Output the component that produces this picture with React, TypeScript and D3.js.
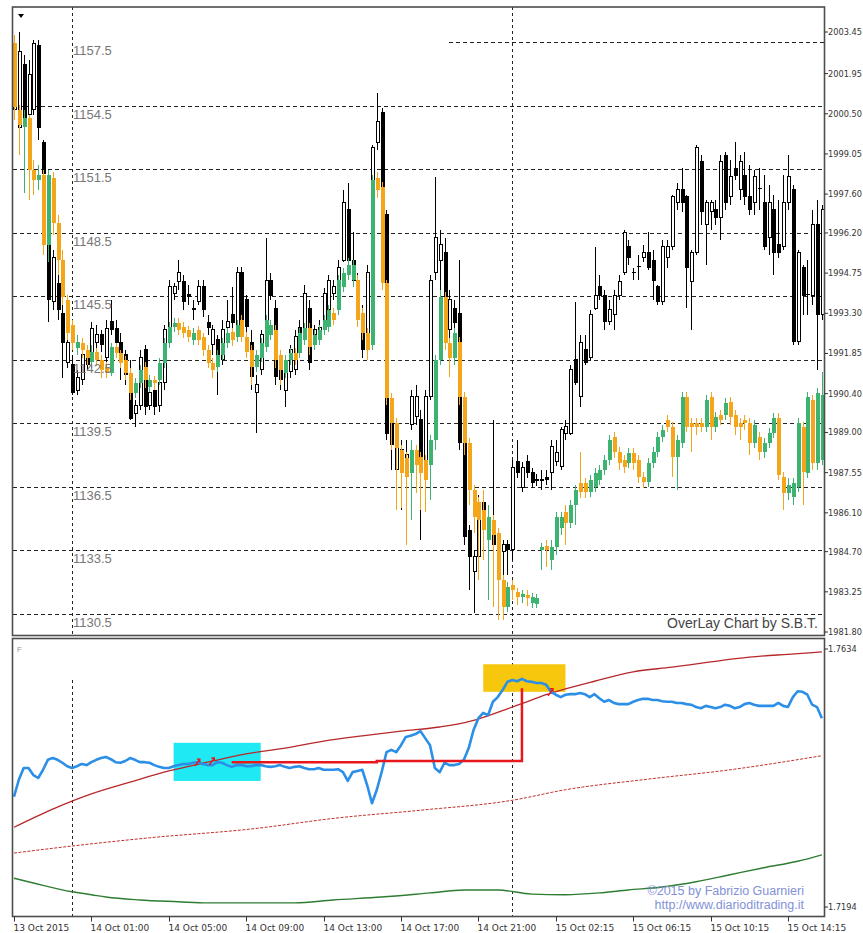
import React from 'react';
import * as d3 from 'd3';

// 15 minute bars, one label every 16 bars
const timeLabels = ['13 Oct 2015', '14 Oct 01:00', '14 Oct 05:00', '14 Oct 09:00', '14 Oct 13:00', '14 Oct 17:00', '14 Oct 21:00', '15 Oct 02:15', '15 Oct 06:15', '15 Oct 10:15', '15 Oct 14:15'];
const barsPerLabel = 16;

// main instrument price scale (right)
const priceTicks = ['2003.45', '2001.95', '2000.50', '1999.05', '1997.60', '1996.20', '1994.75', '1993.30', '1991.85', '1990.40', '1989.00', '1987.55', '1986.10', '1984.70', '1983.25', '1981.80'];
// overlay instrument levels (drawn as grid + inner labels)
const overlayLevels = [1157.5, 1154.5, 1151.5, 1148.5, 1145.5, 1142.5, 1139.5, 1136.5, 1133.5, 1130.5];
const indicatorTicks = ['1.7634', '1.7194'];

// main instrument, [open, high, low, close]
const mainBars = [
  [2000.64, 2003.34, 2000.46, 2002.80], [2000.02, 2003.45, 1999.92, 2002.73], [2002.26, 2002.62, 1999.01, 2000.28], [2000.46, 2002.44, 2000.28, 2001.90],
  [2000.64, 2003.16, 2000.46, 2003.05], [2002.98, 2003.16, 1999.55, 2000.02], [1999.48, 1999.55, 1997.39, 1998.36], [1996.42, 1998.29, 1992.99, 1993.78],
  [1993.71, 1995.59, 1993.42, 1995.30], [1994.39, 1994.86, 1993.06, 1993.42], [1993.31, 1993.60, 1990.97, 1992.23], [1991.51, 1992.52, 1991.33, 1992.23],
  [1991.44, 1991.80, 1990.35, 1990.46], [1990.53, 1991.26, 1990.35, 1990.97], [1990.90, 1991.98, 1990.72, 1991.80], [1991.80, 1992.16, 1991.26, 1991.44],
  [1991.62, 1992.99, 1991.44, 1992.74], [1992.23, 1992.88, 1991.98, 1992.52], [1992.52, 1992.70, 1991.91, 1992.16], [1991.72, 1993.06, 1991.54, 1992.74],
  [1992.99, 1993.78, 1992.52, 1992.70], [1992.74, 1993.06, 1991.98, 1992.23], [1992.23, 1992.59, 1990.90, 1991.80], [1991.80, 1991.98, 1990.72, 1991.08],
  [1991.08, 1991.62, 1989.45, 1989.52], [1989.70, 1990.17, 1989.20, 1989.96], [1989.99, 1991.98, 1989.81, 1991.69], [1991.98, 1992.16, 1989.63, 1989.92],
  [1989.99, 1990.72, 1989.81, 1990.46], [1990.53, 1990.79, 1989.63, 1989.92], [1989.99, 1990.97, 1989.74, 1990.79], [1990.79, 1992.88, 1990.53, 1992.70],
  [1992.77, 1994.50, 1992.52, 1994.25], [1994.03, 1994.39, 1993.78, 1994.25], [1994.43, 1995.22, 1994.14, 1994.76], [1994.43, 1994.68, 1993.42, 1993.71],
  [1993.99, 1994.32, 1993.60, 1993.92], [1993.49, 1993.78, 1993.06, 1993.42], [1993.71, 1994.50, 1993.60, 1994.25], [1994.25, 1994.50, 1993.17, 1993.42],
  [1992.95, 1993.24, 1992.52, 1992.77], [1992.16, 1992.88, 1991.80, 1992.70], [1992.34, 1992.52, 1990.35, 1991.80], [1991.62, 1993.06, 1991.44, 1992.70],
  [1992.77, 1993.78, 1992.63, 1992.99], [1993.24, 1994.25, 1992.70, 1992.95], [1992.81, 1994.97, 1992.52, 1994.76], [1994.76, 1994.97, 1992.52, 1992.88],
  [1993.78, 1993.96, 1992.34, 1992.81], [1992.23, 1992.70, 1990.53, 1991.01], [1990.46, 1991.08, 1988.98, 1990.72], [1991.26, 1992.70, 1991.08, 1992.52],
  [1992.09, 1996.02, 1991.98, 1994.50], [1994.50, 1994.76, 1993.78, 1993.96], [1993.49, 1993.78, 1990.72, 1991.01], [1991.26, 1991.62, 1990.53, 1990.90],
  [1990.53, 1991.62, 1989.92, 1991.19], [1991.19, 1992.16, 1990.97, 1991.98], [1991.26, 1992.70, 1991.08, 1992.45], [1992.77, 1993.06, 1991.80, 1992.23],
  [1992.45, 1994.32, 1992.16, 1994.03], [1993.49, 1993.78, 1991.26, 1991.54], [1992.52, 1992.88, 1992.16, 1992.70], [1992.52, 1993.06, 1992.34, 1992.77],
  [1992.99, 1994.21, 1992.88, 1994.03], [1993.42, 1994.68, 1993.24, 1994.50], [1994.03, 1994.50, 1993.78, 1994.25], [1994.03, 1995.22, 1993.92, 1994.97],
  [1995.22, 1997.75, 1995.15, 1997.28], [1997.03, 1998.00, 1995.04, 1995.22], [1995.22, 1996.23, 1994.32, 1994.50], [1994.25, 1994.76, 1993.78, 1994.03],
  [1993.31, 1993.60, 1991.69, 1991.98], [1991.98, 1995.04, 1991.80, 1994.76], [1994.76, 1999.37, 1994.57, 1999.27], [1999.48, 2001.25, 1999.19, 2000.21],
  [2000.53, 2000.71, 1996.85, 1996.96], [1996.85, 1997.03, 1988.73, 1988.98], [1989.45, 1990.35, 1987.65, 1988.55], [1987.65, 1988.91, 1987.47, 1988.55],
  [1988.37, 1988.73, 1986.20, 1987.54], [1987.65, 1988.73, 1987.29, 1988.19], [1989.27, 1990.53, 1989.09, 1990.28], [1989.56, 1990.72, 1989.27, 1990.28],
  [1989.45, 1989.81, 1985.12, 1987.65], [1987.54, 1990.53, 1987.29, 1990.28], [1990.28, 1994.68, 1990.17, 1994.50], [1994.76, 1998.22, 1994.50, 1996.02],
  [1995.22, 1996.31, 1993.78, 1995.77], [1995.48, 1996.02, 1992.16, 1992.45], [1992.70, 1994.14, 1992.34, 1993.78], [1993.49, 1993.78, 1992.70, 1992.95],
  [1993.31, 1995.22, 1988.37, 1988.62], [1988.62, 1988.91, 1984.94, 1985.23], [1985.48, 1985.66, 1983.32, 1984.51], [1983.97, 1984.76, 1982.49, 1984.51],
  [1984.51, 1986.75, 1984.40, 1986.46], [1986.46, 1986.92, 1985.12, 1985.84], [1985.12, 1986.20, 1982.96, 1985.84], [1985.84, 1989.45, 1984.40, 1984.94],
  [1985.12, 1985.48, 1984.04, 1984.69], [1984.69, 1985.12, 1983.86, 1984.94], [1984.94, 1985.12, 1983.86, 1984.76], [1984.76, 1988.01, 1984.40, 1987.72],
  [1987.94, 1988.73, 1987.36, 1987.54], [1987.00, 1987.94, 1986.85, 1987.72], [1987.94, 1988.19, 1987.36, 1987.54], [1987.54, 1987.72, 1987.00, 1987.21],
  [1987.32, 1987.50, 1987.07, 1987.25], [1987.25, 1987.65, 1986.92, 1987.32], [1987.39, 1987.65, 1987.10, 1987.32], [1987.54, 1988.73, 1986.92, 1988.48],
  [1987.94, 1988.73, 1987.79, 1988.26], [1987.76, 1989.20, 1987.65, 1989.09], [1988.98, 1989.45, 1988.73, 1989.20], [1988.98, 1991.44, 1988.91, 1991.26],
  [1991.62, 1993.71, 1990.72, 1990.79], [1990.28, 1992.52, 1989.92, 1992.23], [1991.98, 1992.52, 1991.44, 1991.51], [1991.72, 1993.42, 1991.62, 1993.24],
  [1993.49, 1995.70, 1993.42, 1993.96], [1994.25, 1994.68, 1993.78, 1993.96], [1993.96, 1994.14, 1992.70, 1992.99], [1992.99, 1993.78, 1992.88, 1993.42],
  [1993.24, 1994.14, 1992.70, 1993.96], [1993.96, 1994.68, 1993.78, 1994.43], [1994.76, 1996.31, 1994.68, 1996.23], [1995.70, 1995.95, 1995.04, 1995.30],
  [1994.77, 1994.94, 1994.50, 1994.76], [1994.98, 1995.41, 1994.50, 1994.97], [1995.30, 1995.77, 1995.15, 1995.48], [1995.48, 1996.23, 1994.86, 1994.97],
  [1995.22, 1995.59, 1993.78, 1994.50], [1994.25, 1994.32, 1993.60, 1993.71], [1993.71, 1995.95, 1993.60, 1995.70], [1995.30, 1995.95, 1994.94, 1995.70],
  [1995.70, 1997.57, 1995.59, 1997.50], [1997.28, 1998.00, 1997.03, 1997.75], [1997.75, 1998.54, 1996.96, 1997.28], [1997.50, 1997.57, 1993.49, 1994.97],
  [1994.43, 1995.59, 1992.70, 1995.48], [1995.48, 1999.37, 1995.41, 1999.27], [1998.76, 1999.01, 1996.49, 1996.96], [1996.49, 1997.39, 1995.04, 1997.28],
  [1996.96, 1997.39, 1996.31, 1997.28], [1997.03, 1997.39, 1996.49, 1996.74], [1996.74, 1999.01, 1995.95, 1998.76], [1999.01, 1999.12, 1997.03, 1997.28],
  [1997.50, 1998.83, 1997.21, 1998.22], [1998.54, 1999.48, 1998.11, 1998.29], [1997.75, 1999.01, 1997.39, 1998.76], [1998.29, 1999.12, 1997.21, 1997.50],
  [1997.50, 1998.65, 1996.85, 1997.03], [1997.28, 1998.47, 1996.85, 1998.22], [1997.79, 1998.54, 1997.03, 1997.75], [1997.28, 1998.29, 1995.59, 1995.70],
  [1996.02, 1997.93, 1995.41, 1997.28], [1997.03, 1997.57, 1994.68, 1995.48], [1995.77, 1997.39, 1995.30, 1995.48], [1995.70, 1998.29, 1995.59, 1997.28],
  [1997.28, 1999.01, 1997.03, 1998.22], [1997.75, 1997.93, 1992.16, 1992.27], [1992.27, 1995.59, 1992.16, 1995.48], [1994.97, 1995.04, 1993.24, 1993.96],
  [1993.99, 1995.22, 1993.24, 1993.96], [1993.96, 1997.03, 1993.60, 1996.49], [1996.49, 1997.39, 1991.26, 1993.24], [1993.24, 1997.21, 1993.06, 1997.03],
];

// overlay instrument, [open, high, low, close]
const overlayBars = [
  [1157.45, 1157.83, 1153.82, 1154.43], [1154.29, 1154.53, 1152.17, 1153.58], [1153.49, 1154.29, 1150.37, 1153.91], [1153.91, 1154.06, 1150.04, 1151.46],
  [1151.46, 1151.93, 1150.28, 1150.99], [1150.99, 1151.70, 1150.52, 1151.22], [1151.22, 1151.46, 1147.45, 1147.92], [1147.92, 1151.46, 1147.12, 1151.22],
  [1151.08, 1151.36, 1148.39, 1148.96], [1148.96, 1149.33, 1146.50, 1147.21], [1147.21, 1147.68, 1145.09, 1145.46], [1145.32, 1145.56, 1143.43, 1143.76],
  [1144.14, 1144.38, 1142.96, 1143.29], [1143.06, 1143.67, 1142.73, 1143.34], [1143.29, 1143.53, 1142.58, 1142.96], [1142.96, 1143.20, 1142.25, 1142.58],
  [1142.40, 1143.20, 1142.11, 1142.87], [1142.87, 1143.06, 1142.21, 1142.49], [1142.49, 1142.73, 1141.64, 1142.02], [1142.16, 1142.40, 1141.64, 1141.88],
  [1141.88, 1143.29, 1141.74, 1143.10], [1143.10, 1143.29, 1142.58, 1142.82], [1142.82, 1142.96, 1142.11, 1142.35], [1142.49, 1142.68, 1141.55, 1141.88],
  [1141.88, 1142.11, 1140.60, 1140.93], [1140.93, 1141.64, 1140.70, 1141.40], [1141.40, 1142.25, 1141.17, 1142.02], [1142.16, 1142.40, 1141.17, 1141.55],
  [1141.22, 1141.78, 1140.98, 1141.55], [1141.55, 1141.74, 1141.07, 1141.40], [1141.55, 1142.58, 1141.31, 1142.35], [1142.35, 1143.53, 1142.11, 1143.29],
  [1143.29, 1144.28, 1143.06, 1144.05], [1144.05, 1144.47, 1143.81, 1144.24], [1144.24, 1144.47, 1143.67, 1143.91], [1144.05, 1144.28, 1143.53, 1143.76],
  [1143.91, 1144.10, 1143.34, 1143.58], [1143.43, 1144.00, 1143.20, 1143.76], [1143.91, 1144.10, 1143.20, 1143.43], [1143.58, 1143.76, 1142.68, 1142.96],
  [1142.96, 1143.20, 1142.11, 1142.35], [1142.35, 1142.58, 1141.64, 1142.02], [1142.16, 1142.96, 1141.92, 1142.73], [1142.73, 1143.53, 1142.49, 1143.29],
  [1143.29, 1144.00, 1143.06, 1143.76], [1143.81, 1144.00, 1143.15, 1143.43], [1143.58, 1144.38, 1143.34, 1144.14], [1144.38, 1144.61, 1143.34, 1143.58],
  [1143.58, 1143.81, 1142.58, 1142.87], [1142.96, 1143.20, 1141.31, 1142.16], [1142.16, 1142.96, 1141.92, 1142.73], [1142.58, 1143.53, 1142.40, 1143.29],
  [1143.10, 1144.61, 1142.87, 1144.38], [1143.67, 1144.38, 1143.43, 1144.14], [1143.91, 1144.14, 1142.11, 1142.49], [1142.73, 1142.96, 1141.31, 1142.02],
  [1141.88, 1142.73, 1141.64, 1142.49], [1142.49, 1143.06, 1142.25, 1142.82], [1142.82, 1143.06, 1142.25, 1142.49], [1142.82, 1144.00, 1142.58, 1143.76],
  [1143.43, 1144.24, 1143.20, 1144.00], [1144.00, 1144.24, 1142.73, 1143.10], [1143.20, 1143.91, 1142.96, 1143.67], [1143.43, 1144.14, 1143.20, 1143.91],
  [1143.91, 1144.61, 1143.67, 1144.38], [1144.05, 1145.09, 1143.81, 1144.85], [1144.71, 1144.94, 1144.14, 1144.38], [1144.85, 1146.50, 1144.61, 1146.27],
  [1145.94, 1146.83, 1145.70, 1146.60], [1146.50, 1147.30, 1146.27, 1146.97], [1146.27, 1147.21, 1145.94, 1146.97], [1146.27, 1146.50, 1144.05, 1144.38],
  [1144.71, 1144.94, 1143.43, 1143.76], [1143.76, 1144.00, 1142.49, 1142.96], [1143.20, 1151.22, 1142.96, 1150.99], [1151.08, 1151.36, 1150.14, 1150.52],
  [1150.66, 1150.89, 1145.79, 1146.12], [1146.12, 1146.27, 1140.37, 1140.70], [1140.70, 1140.93, 1138.24, 1139.52], [1139.52, 1139.75, 1135.41, 1138.34],
  [1138.24, 1138.48, 1135.50, 1137.16], [1137.86, 1138.15, 1133.76, 1136.97], [1137.16, 1138.71, 1134.94, 1138.24], [1138.24, 1138.48, 1136.21, 1137.53],
  [1137.91, 1138.15, 1135.41, 1137.16], [1137.77, 1138.01, 1135.32, 1136.83], [1137.53, 1138.95, 1135.88, 1138.71], [1138.71, 1142.73, 1138.24, 1142.49],
  [1142.49, 1145.79, 1142.25, 1145.46], [1145.46, 1145.70, 1142.96, 1143.29], [1143.29, 1143.53, 1141.69, 1142.58], [1142.58, 1144.00, 1142.25, 1143.76],
  [1143.34, 1143.58, 1140.37, 1140.74], [1140.74, 1140.98, 1138.01, 1138.57], [1138.57, 1138.81, 1135.65, 1136.35], [1136.35, 1136.59, 1134.32, 1135.08],
  [1135.79, 1136.02, 1132.11, 1134.94], [1135.41, 1136.35, 1133.05, 1134.47], [1133.99, 1135.65, 1131.16, 1135.08], [1134.94, 1135.17, 1130.83, 1134.23],
  [1134.32, 1134.56, 1130.22, 1132.11], [1132.11, 1132.34, 1130.22, 1130.83], [1130.83, 1132.01, 1130.60, 1131.77], [1131.87, 1132.11, 1131.16, 1131.63],
  [1131.54, 1131.73, 1130.93, 1131.30], [1131.30, 1131.63, 1131.02, 1131.44], [1131.40, 1131.63, 1130.88, 1131.25], [1131.02, 1131.49, 1130.78, 1131.30],
  [1130.97, 1131.44, 1130.78, 1131.25], [1133.52, 1133.85, 1132.58, 1133.66], [1133.71, 1133.99, 1132.72, 1133.52], [1133.05, 1133.99, 1132.58, 1133.66],
  [1133.66, 1135.32, 1133.29, 1135.08], [1134.56, 1135.32, 1134.23, 1135.08], [1135.32, 1135.65, 1133.76, 1134.80], [1134.80, 1135.88, 1134.56, 1135.65],
  [1135.65, 1136.59, 1134.70, 1136.35], [1136.68, 1138.15, 1135.98, 1136.26], [1136.68, 1136.92, 1135.98, 1136.26], [1136.26, 1137.06, 1136.02, 1136.83],
  [1136.50, 1137.39, 1136.26, 1137.16], [1136.83, 1137.53, 1136.59, 1137.30], [1137.30, 1138.01, 1137.06, 1137.77], [1137.77, 1138.95, 1137.53, 1138.71],
  [1138.86, 1139.09, 1137.86, 1138.15], [1138.15, 1138.38, 1137.30, 1137.63], [1137.77, 1138.01, 1137.16, 1137.44], [1137.63, 1138.34, 1137.39, 1138.10],
  [1138.10, 1138.34, 1137.30, 1137.63], [1137.77, 1138.01, 1136.68, 1136.97], [1136.97, 1137.20, 1136.45, 1136.73], [1136.73, 1137.86, 1136.50, 1137.63],
  [1137.63, 1138.38, 1137.39, 1138.15], [1138.15, 1139.09, 1137.91, 1138.86], [1138.86, 1139.42, 1138.62, 1139.19], [1139.66, 1139.89, 1139.09, 1139.33],
  [1139.33, 1139.56, 1136.97, 1137.91], [1137.91, 1138.95, 1136.35, 1138.71], [1138.57, 1140.98, 1138.34, 1140.74], [1140.74, 1140.98, 1139.09, 1139.33],
  [1139.52, 1139.75, 1138.15, 1139.33], [1139.52, 1139.75, 1138.95, 1139.33], [1139.52, 1139.75, 1139.09, 1139.33], [1139.33, 1140.84, 1139.09, 1140.60],
  [1140.74, 1140.98, 1138.71, 1139.33], [1139.33, 1140.04, 1139.09, 1139.80], [1139.89, 1140.13, 1139.42, 1139.66], [1139.89, 1140.70, 1139.66, 1140.46],
  [1140.51, 1140.74, 1139.42, 1139.80], [1139.89, 1140.13, 1138.95, 1139.33], [1139.52, 1139.75, 1138.71, 1139.33], [1139.66, 1139.89, 1139.19, 1139.52],
  [1139.52, 1139.75, 1138.01, 1138.57], [1138.57, 1139.66, 1138.34, 1139.42], [1138.86, 1139.09, 1137.77, 1138.15], [1138.15, 1138.81, 1137.86, 1138.57],
  [1138.57, 1139.28, 1138.34, 1139.04], [1139.04, 1139.99, 1138.81, 1139.75], [1139.75, 1139.99, 1136.83, 1137.06], [1136.97, 1137.20, 1135.41, 1136.21],
  [1136.21, 1136.92, 1135.88, 1136.59], [1136.02, 1136.92, 1135.65, 1136.68], [1136.50, 1139.75, 1136.26, 1139.52], [1139.33, 1139.56, 1135.65, 1137.20],
  [1137.16, 1140.98, 1136.92, 1140.74], [1140.60, 1140.84, 1137.30, 1137.63], [1137.63, 1141.17, 1137.30, 1140.93], [1137.77, 1141.92, 1137.53, 1140.84],
];

// ratio line of the lower window, one value per bar
const ratio = [
  1.7382, 1.7411, 1.7431, 1.7431, 1.7419, 1.7414, 1.7428, 1.7445, 1.7448, 1.7445, 1.7440, 1.7434, 1.7431, 1.7434, 1.7438, 1.7436,
  1.7441, 1.7445, 1.7448, 1.7450, 1.7446, 1.7441, 1.7440, 1.7443, 1.7448, 1.7445, 1.7441, 1.7441, 1.7440, 1.7436, 1.7433, 1.7431,
  1.7431, 1.7434, 1.7436, 1.7438, 1.7438, 1.7440, 1.7441, 1.7438, 1.7436, 1.7436, 1.7441, 1.7440, 1.7436, 1.7433, 1.7436, 1.7436,
  1.7434, 1.7434, 1.7436, 1.7436, 1.7434, 1.7433, 1.7434, 1.7436, 1.7433, 1.7431, 1.7433, 1.7434, 1.7431, 1.7429, 1.7429, 1.7431,
  1.7428, 1.7428, 1.7428, 1.7429, 1.7424, 1.7409, 1.7424, 1.7426, 1.7428, 1.7402, 1.7371, 1.7394, 1.7424, 1.7458, 1.7462, 1.7458,
  1.7470, 1.7484, 1.7486, 1.7489, 1.7494, 1.7482, 1.7470, 1.7431, 1.7424, 1.7440, 1.7436, 1.7436, 1.7438, 1.7445, 1.7465, 1.7496,
  1.7516, 1.7525, 1.7521, 1.7544, 1.7552, 1.7564, 1.7578, 1.7581, 1.7579, 1.7583, 1.7579, 1.7578, 1.7576, 1.7576, 1.7573, 1.7561,
  1.7556, 1.7552, 1.7556, 1.7557, 1.7557, 1.7559, 1.7557, 1.7552, 1.7557, 1.7550, 1.7544, 1.7547, 1.7542, 1.7540, 1.7540, 1.7540,
  1.7544, 1.7547, 1.7549, 1.7549, 1.7547, 1.7547, 1.7545, 1.7544, 1.7544, 1.7542, 1.7542, 1.7540, 1.7539, 1.7535, 1.7533, 1.7537,
  1.7535, 1.7533, 1.7535, 1.7539, 1.7537, 1.7533, 1.7535, 1.7540, 1.7542, 1.7539, 1.7537, 1.7537, 1.7537, 1.7537, 1.7542, 1.7537,
  1.7535, 1.7552, 1.7562, 1.7561, 1.7556, 1.7539, 1.7535, 1.7516,
];

// [bar, value]
const upperBand = [[0, 1.7330], [8, 1.7361], [16, 1.7387], [24, 1.7407], [32, 1.7426], [40, 1.7441], [48, 1.7455], [56, 1.7465], [64, 1.7477], [72, 1.7486], [80, 1.7494], [88, 1.7501], [94, 1.7510], [98, 1.7520], [102, 1.7532], [106, 1.7544], [110, 1.7556], [114, 1.7566], [120, 1.7579], [128, 1.7595], [136, 1.7603], [144, 1.7612], [152, 1.7620], [160, 1.7625], [167, 1.7629]];
const midBand = [[0, 1.7286], [12, 1.7298], [28, 1.7312], [49, 1.7327], [67, 1.7346], [84, 1.7359], [103, 1.7376], [114, 1.7394], [131, 1.7412], [148, 1.7428], [167, 1.7452]];
const lowerBand = [[0, 1.7243], [4, 1.7235], [12, 1.7220], [16, 1.7215], [19, 1.7211], [26, 1.7206], [34, 1.7203], [40, 1.7201], [58, 1.7201], [66, 1.7206], [76, 1.7211], [86, 1.7218], [93, 1.7223], [100, 1.7223], [107, 1.7216], [114, 1.7215], [121, 1.7218], [127, 1.7223], [134, 1.7228], [141, 1.7237], [148, 1.7249], [155, 1.7261], [162, 1.7272], [167, 1.7283]];
const signalLine = [[45, 1.7441], [75, 1.7441], [75, 1.7443], [105, 1.7443], [105, 1.7567]];
const signalArrows = [[38, 1.7441], [41, 1.7443], [111, 1.7561]];
// [fromBar, toBar, low, high]
const entryZone = [33, 51, 1.7409, 1.7474];
const exitZone = [97, 114, 1.7561, 1.7608];
const markerBars = [12, 103];

const W = 863;
const H = 933;
const L = 12.5;
const R = 824.5;
const TOP = 7;
const MID = 635.5;
const SUB = 638.5;
const BOT = 916.5;

const ORANGE = '#f5a51a';
const GREEN = '#3cb371';
const axisFont = 'DejaVu Sans, sans-serif';
const textFont = 'Liberation Sans, Arial, sans-serif';

export default function App() {
  const x = d3.scaleLinear().domain([0, 160]).range([14, 788]);
  const yMain = d3.scaleLinear().domain([1981.8, 2003.45]).range([632, 32]);
  const yOver = d3.scaleLinear().domain([1130.5, 1157.5]).range([614, 42]);
  const yInd = d3.scaleLinear().domain([1.7194, 1.7634]).range([907, 649]);

  const px = (i) => Math.round(x(i));

  const smooth = d3.line().x((d) => x(d[0])).y((d) => yInd(d[1])).curve(d3.curveMonotoneX);
  const straight = d3.line().x((d) => x(d[0])).y((d) => yInd(d[1]));
  const ratioPath = d3.line().x((d, i) => x(i)).y((d) => yInd(d))(ratio);

  return (
    <svg width={W} height={H} style={{ position: 'absolute', left: 0, top: 0, background: '#fff' }}>
      <defs>
        <clipPath id="upper"><rect x={13} y={TOP} width={R - 13} height={MID - TOP} /></clipPath>
        <clipPath id="lower"><rect x={13} y={SUB} width={R - 13} height={BOT - SUB} /></clipPath>
      </defs>
      <rect x={0} y={0} width={W} height={H} fill="#fff" />

      {/* grid of overlay levels */}
      <g stroke="#222" strokeWidth={1} strokeDasharray="4,3" shapeRendering="crispEdges">
        {overlayLevels.map((v, k) => (
          <line key={v} x1={k === 0 ? x(90) : L} x2={R} y1={Math.round(yOver(v)) + 0.5} y2={Math.round(yOver(v)) + 0.5} />
        ))}
        {markerBars.map((b) => (
          <line key={b} x1={px(b) + 0.5} x2={px(b) + 0.5} y1={TOP} y2={MID} strokeDasharray="3,3" />
        ))}
      </g>

      {/* main instrument candles */}
      <g clipPath="url(#upper)" shapeRendering="crispEdges">
        {mainBars.map(([o, h, l, c], i) => {
          const cx = px(i);
          const top = yMain(Math.max(o, c));
          const hgt = Math.abs(yMain(o) - yMain(c));
          return (
            <g key={i}>
              <line x1={cx + 0.5} x2={cx + 0.5} y1={yMain(h)} y2={yMain(l)} stroke="#000" />
              {hgt < 1.5 ? (
                <line x1={cx - 1.5} x2={cx + 2.5} y1={top} y2={top} stroke="#000" />
              ) : (
                <rect x={cx - 1} y={top} width={3} height={hgt} fill={c > o ? '#fff' : '#000'} stroke="#000" />
              )}
            </g>
          );
        })}
      </g>

      {/* overlay candles */}
      <g clipPath="url(#upper)" shapeRendering="crispEdges">
        {overlayBars.map(([o, h, l, c], i) => {
          const cx = px(i);
          const col = c >= o ? GREEN : ORANGE;
          const top = yOver(Math.max(o, c));
          const hgt = Math.max(2, Math.abs(yOver(o) - yOver(c)));
          return (
            <g key={i}>
              <line x1={cx + 0.5} x2={cx + 0.5} y1={yOver(h)} y2={yOver(l)} stroke={col} />
              <rect x={cx - 1.5} y={top} width={4} height={hgt} fill={col} />
            </g>
          );
        })}
      </g>

      {/* inner labels of overlay levels */}
      {overlayLevels.map((v) => (
        <text key={v} x={73} y={yOver(v) + 13} fontFamily={textFont} fontSize={13} fill="#777">{v.toFixed(1)}</text>
      ))}

      <text x={818} y={628} textAnchor="end" fontFamily={textFont} fontSize={14} fill="#444">OverLay Chart by S.B.T.</text>
      <path d="M18,14 L24,14 L21,18 Z" fill="#000" />

      {/* lower window */}
      <g clipPath="url(#lower)">
        <g stroke="#222" strokeDasharray="3,3" shapeRendering="crispEdges">
          <line x1={px(markerBars[0]) + 0.5} x2={px(markerBars[0]) + 0.5} y1={680} y2={BOT} />
          <line x1={px(markerBars[1]) + 0.5} x2={px(markerBars[1]) + 0.5} y1={SUB} y2={BOT} />
        </g>
        <rect x={x(entryZone[0])} y={yInd(entryZone[3])} width={x(entryZone[1]) - x(entryZone[0])} height={yInd(entryZone[2]) - yInd(entryZone[3])} fill="#1fe9f2" />
        <rect x={x(exitZone[0])} y={yInd(exitZone[3])} width={x(exitZone[1]) - x(exitZone[0])} height={yInd(exitZone[2]) - yInd(exitZone[3])} fill="#f6c70d" />
        <path d={smooth(lowerBand)} fill="none" stroke="#2e7d32" strokeWidth={1.4} />
        <path d={smooth(midBand)} fill="none" stroke="#c0302b" strokeWidth={1} strokeDasharray="3,1.5" />
        <path d={smooth(upperBand)} fill="none" stroke="#b8282a" strokeWidth={1.3} />
        <path d={ratioPath} fill="none" stroke="#2b8fe8" strokeWidth={2.6} strokeLinejoin="round" />
        <path d={straight(signalLine)} fill="none" stroke="#e8171c" strokeWidth={2.5} />
        {signalArrows.map(([b, v]) => (
          <g key={b} transform={`translate(${x(b)},${yInd(v)})`} stroke="#e8171c" strokeWidth={1.4} fill="none">
            <path d="M-3,4 L2,-3 M-1,-3 L2,-3 L2,0" />
          </g>
        ))}
      </g>
      <text x={804} y={895} textAnchor="end" fontFamily={textFont} fontSize={12.5} fill="#8391d8">©2015 by Fabrizio Guarnieri</text>
      <text x={804} y={909} textAnchor="end" fontFamily={textFont} fontSize={12.5} fill="#8391d8">http://www.diarioditrading.it</text>
      <text x={17} y={652} fontFamily={textFont} fontSize={8} fill="#999">F</text>

      {/* frames */}
      <g fill="none" stroke="#4d4d4d" strokeWidth={1.6}>
        <rect x={L} y={TOP} width={R - L} height={MID - TOP} />
        <rect x={L} y={SUB} width={R - L} height={BOT - SUB} />
      </g>

      {/* right price axis */}
      <g fontFamily={axisFont} fontSize={8.2} fill="#333">
        {priceTicks.map((t) => (
          <g key={t}>
            <line x1={R} x2={R + 3.5} y1={yMain(+t)} y2={yMain(+t)} stroke="#333" />
            <text x={828} y={yMain(+t) + 3}>{t}</text>
          </g>
        ))}
        {indicatorTicks.map((t) => (
          <g key={t}>
            <line x1={R} x2={R + 3.5} y1={yInd(+t)} y2={yInd(+t)} stroke="#333" />
            <text x={828} y={yInd(+t) + 3}>{t}</text>
          </g>
        ))}
      </g>

      {/* time axis */}
      <g fontFamily={axisFont} fontSize={9} fill="#333">
        {timeLabels.map((t, k) => {
          const tx = px(k * barsPerLabel) + 0.5;
          return (
            <g key={t}>
              <line x1={tx} x2={tx} y1={BOT} y2={BOT + 5} stroke="#333" />
              <text x={tx - 1} y={931}>{t}</text>
            </g>
          );
        })}
      </g>
    </svg>
  );
}
